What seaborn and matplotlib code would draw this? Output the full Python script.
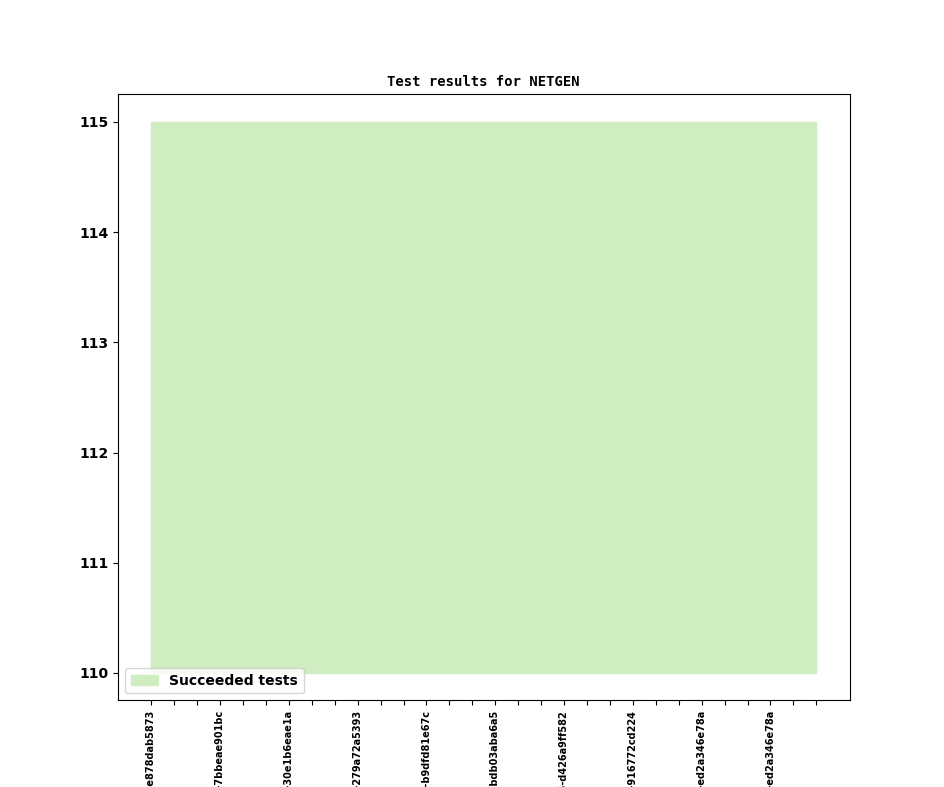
import matplotlib
matplotlib.use("Agg")
import matplotlib.pyplot as plt
import seaborn as sns

# test runs (30 builds), every third one is labelled on the x axis
run_index = list(range(30))
shown_commits = [
    "v6.2.2105-e878dab5873",
    "v6.2.2105-7bbeae901bc",
    "v6.2.2105-30e1b6eae1a",
    "v6.2.2105-279a72a5393",
    "v6.2.2105-b9dfd81e67c",
    "v6.2.2105-bdb03aba6a5",
    "v6.2.2105-d426a9ff582",
    "v6.2.2105-916772cd224",
    "v6.2.2105-ed2a346e78a",
    "v6.2.2105-ed2a346e78a",
]
succeeded = [115] * 30
baseline = [110] * 30

sns.set_theme(style="ticks", rc={
    "axes.edgecolor": "black",
    "text.color": "black",
    "xtick.color": "black",
    "ytick.color": "black",
    "axes.linewidth": 0.8,
    "xtick.major.width": 0.8,
    "ytick.major.width": 0.8,
    "xtick.major.size": 3.5,
    "ytick.major.size": 3.5,
})
plt.rcParams["font.family"] = ["DejaVu Sans"]

fig, ax = plt.subplots(figsize=(9.44, 7.87), dpi=100)
fig.subplots_adjust(left=0.125, right=0.9, top=0.88, bottom=0.11)

ax.fill_between(run_index, baseline, succeeded, facecolor="#cfedc0",
                edgecolor="#cfedc0", linewidth=1.0, label="Succeeded tests")

ax.set_title("Test results for NETGEN", family="DejaVu Sans Mono",
             fontweight="bold", fontsize=10)

ax.set_xticks(run_index)
labels = [shown_commits[i // 3] if i % 3 == 0 else "" for i in run_index]
ax.set_xticklabels(labels, rotation=90, fontsize=7, fontweight="bold",
                   va="top")
ax.set_yticks([110, 111, 112, 113, 114, 115])
ax.set_yticklabels(["110", "111", "112", "113", "114", "115"],
                   fontsize=10, fontweight="bold")
ax.margins(x=0.05, y=0.05)

leg = ax.legend(loc="lower left", prop={"weight": "bold", "size": 10},
                fancybox=True, framealpha=0.8, edgecolor="#cccccc")

fig.savefig("out.png", dpi=100)
